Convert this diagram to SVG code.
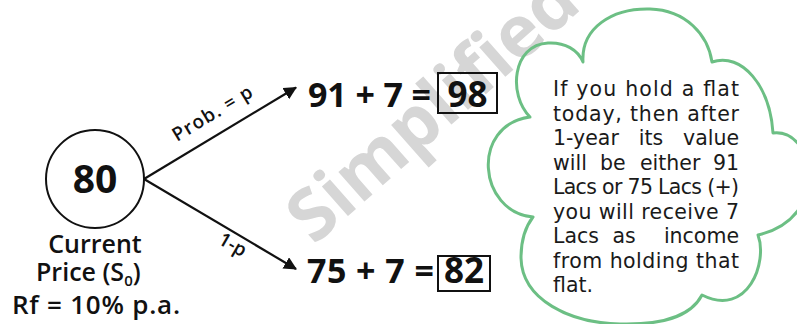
<svg xmlns="http://www.w3.org/2000/svg" width="797" height="324" viewBox="0 0 797 324">
<style>
.t{font-family:"Open Sans","Noto Sans","DejaVu Sans",sans-serif;fill:#111}
.b{font-weight:700}
.sb{font-weight:600}
.cl{font-family:"DejaVu Sans","Noto Sans",sans-serif;font-size:20.5px;fill:#1a1a1a}
.e{text-anchor:end}
.m{text-anchor:middle}
.ln{stroke:#111;stroke-width:2.2;fill:none}
.box{fill:none;stroke:#111;stroke-width:2}
</style>
<defs>
<marker id="ah" viewBox="0 0 12 12" refX="11" refY="6" markerWidth="13" markerHeight="13" markerUnits="userSpaceOnUse" orient="auto">
<path d="M0,0 L12,6 L0,12 z" fill="#111"/>
</marker>
</defs>
<rect width="797" height="324" fill="#fff"/>
<g id="watermark">
<text x="314" y="246" transform="rotate(-41.5 314 246)" font-family="Open Sans, DejaVu Sans, sans-serif" font-weight="700" font-size="72" fill="#d6d6d6">Simplified</text>
</g>
<g id="connectors">
<line class="ln" x1="144" y1="179" x2="296" y2="87.5" marker-end="url(#ah)"/>
<line class="ln" x1="144" y1="179" x2="296" y2="269" marker-end="url(#ah)"/>
<text class="t sb" x="177" y="142" font-size="19" textLength="90" lengthAdjust="spacing" transform="rotate(-31 177 142)">Prob. = p</text>
<text class="t sb" x="217" y="243" font-size="19" transform="rotate(30 217 243)">1-p</text>
</g>
<g id="node-current">
<circle cx="95" cy="179" r="49" fill="none" stroke="#111" stroke-width="2"/>
<text class="t b" x="95" y="193" font-size="39" text-anchor="middle">80</text>
<text class="t sb" x="95" y="253" font-size="25" text-anchor="middle">Current</text>
<text class="t sb" x="36" y="281" font-size="25">Price (S<tspan font-size="15" dy="5">0</tspan><tspan dy="-5">)</tspan></text>
<text class="t sb" x="12" y="314" font-size="26" textLength="168" lengthAdjust="spacing">Rf = 10% p.a.</text>
</g>
<g id="node-up">
<text class="t b" x="308" y="107" font-size="34" textLength="123" lengthAdjust="spacing">91 + 7 =</text>
<rect class="box" x="438" y="73" width="59" height="40"/>
<text class="t b" x="467.5" y="107" font-size="35" text-anchor="middle">98</text>
</g>
<g id="node-down">
<text class="t b" x="307" y="283" font-size="34" textLength="127" lengthAdjust="spacing">75 + 7 =</text>
<rect class="box" x="438" y="256" width="52" height="35"/>
<text class="t b" x="464" y="283" font-size="35" text-anchor="middle">82</text>
</g>
<g id="node-cloud">
<path d="M583,62 C581,28 612,8 650,9 C686,10 708,35 712,62 C742,52 770,86 773,133 C815,128 832,218 758,235 C768,262 748,318 702,295 C690,318 660,325 620,324 C570,323 522,300 521,258 C521,240 526,226 533,217 C478,212 470,125 530,117 C508,95 512,45 548,43 C565,42 578,50 583,62 Z" fill="none" stroke="#6cbf84" stroke-width="3" stroke-linejoin="round"/>
<text class="cl" x="553" y="96" textLength="186" lengthAdjust="spacing">If you hold a flat</text>
<text class="cl" x="553" y="120.5" textLength="186" lengthAdjust="spacing">today, then after</text>
<text class="cl" x="553" y="145">1-year</text><text class="cl m" x="651" y="145">its</text><text class="cl e" x="739" y="145">value</text>
<text class="cl" x="553" y="169.5">will</text><text class="cl" x="600" y="169.5">be</text><text class="cl" x="640" y="169.5">either</text><text class="cl e" x="739" y="169.5">91</text>
<text class="cl" x="553" y="194" textLength="186" lengthAdjust="spacing">Lacs or 75 Lacs (+)</text>
<text class="cl" x="553" y="218.5" textLength="186" lengthAdjust="spacing">you will receive 7</text>
<text class="cl" x="553" y="243">Lacs</text><text class="cl m" x="624" y="243">as</text><text class="cl e" x="739" y="243">income</text>
<text class="cl" x="553" y="267.5" textLength="186" lengthAdjust="spacing">from holding that</text>
<text class="cl" x="553" y="292">flat.</text>
</g>
</svg>
